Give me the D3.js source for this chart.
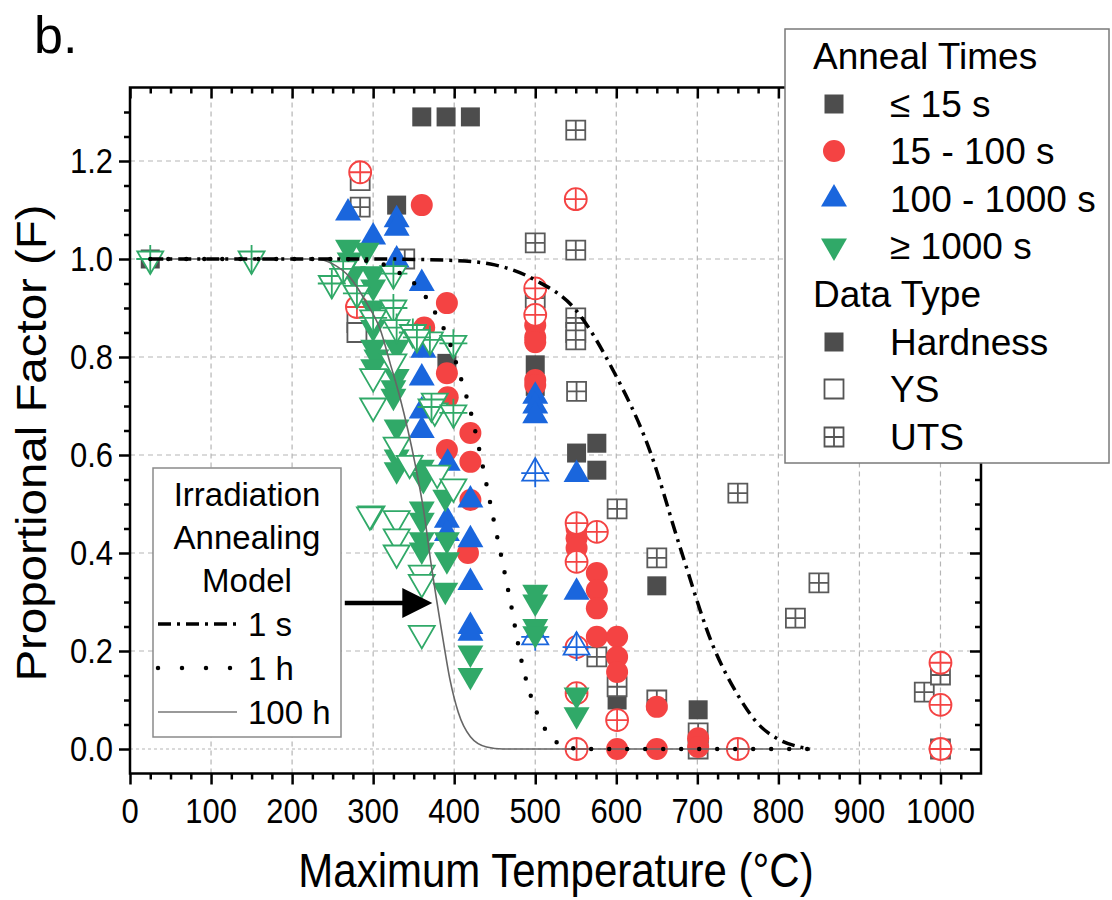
<!DOCTYPE html>
<html>
<head>
<meta charset="utf-8">
<script src="https://cdn.jsdelivr.net/npm/d3@7"></script>
<style>
body { margin: 0; background: #fff; }
text { font-family: "Liberation Sans", Arial, sans-serif; fill: #000; }
</style>
</head>
<body>
<svg id="chart" width="1112" height="900"></svg>
<script>
// ---- data: [temperature °C, proportional factor F] ----
const xTicks = [0, 100, 200, 300, 400, 500, 600, 700, 800, 900, 1000];
const yTicks = [0.0, 0.2, 0.4, 0.6, 0.8, 1.0, 1.2];

// <= 15 s (grey squares)
const hardShort = [[25,1.0],[329,1.11],[360,1.29],[390,1.29],[420,1.29],[391,0.787],[500,0.784],[500,0.74],
  [551,0.604],[576,0.624],[576,0.569],[650,0.333],[601,0.1],[701,0.08]];
const ysShort = [[280,0.87],[280,0.85],[284,1.16],[701,0.0],[1000,0.0]];
const utsShort = [[284,1.106],[339,1.0],[550,1.263],[500,1.033],[550,1.018],[500,0.92],[550,0.88],[550,0.85],
  [550,0.835],[551,0.73],[601,0.49],[650,0.39],[750,0.522],[850,0.339],[821,0.267],[980,0.116],[1000,0.151],
  [576,0.188],[601,0.127],[650,0.1],[701,0.033]];

// 15 - 100 s (red circles)
const hardMid = [[360,1.11],[391,0.91],[363,0.86],[391,0.767],[392,0.718],[420,0.645],[391,0.61],[420,0.586],
  [420,0.508],[417,0.40],[500,0.865],[500,0.84],[500,0.83],[500,0.753],[500,0.743],[551,0.45],[551,0.43],
  [551,0.41],[576,0.359],[576,0.324],[576,0.287],[576,0.229],[601,0.229],[601,0.188],[601,0.157],[650,0.086],
  [701,0.022],[701,0.004],[601,0.0],[650,0.0]];
const utsMid = [[284,1.177],[280,0.902],[550,1.122],[500,0.94],[500,0.886],[551,0.461],[576,0.443],[551,0.382],
  [551,0.208],[551,0.114],[601,0.059],[551,0.0],[750,0.0],[1000,0.176],[1000,0.09],[1000,0.0]];

// 100 - 1000 s (blue up triangles)
const hardLong = [[269,1.094],[329,1.08],[329,1.063],[300,1.045],[329,0.998],[360,0.95],[362,0.814],[360,0.757],
  [360,0.69],[360,0.65],[392,0.583],[391,0.467],[391,0.44],[420,0.508],[420,0.427],[420,0.34],[420,0.25],
  [420,0.236],[500,0.72],[500,0.70],[500,0.68],[551,0.56],[551,0.32]];
const utsLong = [[500,0.563],[500,0.229],[551,0.208]];

// >= 1000 s (green down triangles)
const hardVLong = [[269,1.024],[271,0.998],[275,0.97],[292,1.018],[300,0.97],[300,0.943],[300,0.90],[300,0.86],
  [300,0.82],[304,0.80],[300,0.78],[329,0.86],[329,0.82],[329,0.76],[325,0.737],[325,0.72],[329,0.657],
  [329,0.596],[329,0.57],[360,0.575],[362,0.55],[360,0.49],[360,0.467],[360,0.427],[360,0.406],[391,0.427],
  [391,0.386],[389,0.324],[389,0.514],[420,0.196],[420,0.15],[500,0.32],[500,0.30],[500,0.25],[500,0.235],
  [551,0.11],[551,0.07]];
const ysVLong = [[300,0.70],[329,0.62],[298,0.48],[329,0.47],[329,0.433],[329,0.40],[360,0.359],[360,0.34],
  [360,0.236],[376,0.71],[376,0.69],[345,0.583],[379,0.563],[399,0.535],[296,0.478],[325,0.79],[300,0.76]];
const utsVLong = [[25,1.0],[150,1.0],[249,0.95],[263,0.98],[325,0.97],[325,0.9],[329,0.86],[349,0.85],[370,0.835],
  [399,0.828],[354,0.84],[372,0.698],[399,0.686],[280,0.93],[300,0.88]];

// irradiation annealing model curves
const model1s = [[25,1.0],[300,1.0],[400,0.997],[450,0.988],[500,0.957],[550,0.896],[596,0.773],[642,0.606],
  [679,0.41],[720,0.208],[750,0.11],[774,0.053],[800,0.02],[827,0.004],[839,0.0]];
const model1h = [[25,1.0],[250,1.0],[300,0.995],[331,0.973],[349,0.953],[366,0.92],[380,0.88],[392,0.84],
  [407,0.763],[415,0.72],[422,0.677],[433,0.595],[448,0.473],[459,0.386],[469,0.304],[483,0.18],[497,0.096],
  [506,0.059],[520,0.024],[540,0.003],[560,0],[839,0]];
const model100h = [[25,1.0],[230,1.0],[250,0.99],[271,0.963],[292,0.91],[309,0.855],[321,0.787],[333,0.718],
  [343,0.65],[352,0.58],[362,0.49],[372,0.372],[385,0.236],[395,0.14],[405,0.075],[420,0.025],[440,0.004],
  [460,0],[828,0]];

const annealLabels = ["\u2264 15 s", "15 - 100 s", "100 - 1000 s", "\u2265 1000 s"];
const typeLabels = ["Hardness", "YS", "UTS"];
const modelLabels = ["1 s", "1 h", "100 h"];

// ---- setup ----
const cGray = "#4d4d4d", cRed = "#f44343", cBlue = "#1a66dd", cGreen = "#30a968";
const svg = d3.select("#chart");
const x = d3.scaleLinear().domain([0, 1050]).range([130, 981]);
const y = d3.scaleLinear().domain([-0.05, 1.35]).range([773.5, 87.5]);
const stretch = 1.13;

const sq = d3.symbol().type(d3.symbolSquare).size(361)();
const circ = d3.symbol().type(d3.symbolCircle).size(380)();
const tri = d3.symbol().type(d3.symbolTriangle).size(292)();
const shapes = {
  square: { d: sq, cross: "M-9.5,0H9.5M0,-9.5V9.5", rot: 0 },
  circle: { d: circ, cross: "M-11,0H11M0,-11V11", rot: 0 },
  up: { d: tri, cross: "M-14,0H14M0,-15V14", rot: 0 },
  down: { d: tri, cross: "M-14,0H14M0,-15V14", rot: 180 }
};

// grid
const grid = svg.append("g");
grid.selectAll("line.gx").data(xTicks.slice(1)).enter().append("line")
  .attr("x1", d => x(d)).attr("x2", d => x(d)).attr("y1", y(-0.05)).attr("y2", y(1.35))
  .attr("stroke", "#b5b5b5").attr("stroke-width", 1.2).attr("stroke-dasharray", "5,4");
grid.selectAll("line.gy").data(yTicks).enter().append("line")
  .attr("x1", x(0)).attr("x2", x(1050)).attr("y1", d => y(d)).attr("y2", d => y(d))
  .attr("stroke", "#b5b5b5").attr("stroke-width", 1.2).attr("stroke-dasharray", d => d === 0 ? "3,3" : "5,4");

// markers
function drawSet(data, shape, kind, color) {
  const s = shapes[shape];
  const g = svg.append("g").selectAll("g").data(data).enter().append("g")
    .attr("transform", d => `translate(${x(d[0])},${y(d[1])}) rotate(${s.rot})`);
  g.append("path").attr("d", s.d)
    .attr("fill", kind === "hard" ? color : "#fff")
    .attr("stroke", color).attr("stroke-width", kind === "hard" ? 0 : 1.8);
  if (kind === "uts") {
    g.append("path").attr("d", s.cross).attr("fill", "none").attr("stroke", color).attr("stroke-width", 1.8);
  }
}
drawSet(hardShort, "square", "hard", cGray);
drawSet(ysShort, "square", "ys", "#5a5a5a");
drawSet(utsShort, "square", "uts", "#5a5a5a");
drawSet(hardMid, "circle", "hard", cRed);
drawSet(utsMid, "circle", "uts", cRed);
drawSet(hardLong, "up", "hard", cBlue);
drawSet(utsLong, "up", "uts", cBlue);
drawSet(hardVLong, "down", "hard", cGreen);
drawSet(ysVLong, "down", "ys", cGreen);
drawSet(utsVLong, "down", "uts", cGreen);

// model curves
const line = d3.line().x(d => x(d[0])).y(d => y(d[1])).curve(d3.curveMonotoneX);
svg.append("path").datum(model100h).attr("d", line).attr("fill", "none")
  .attr("stroke", "#666").attr("stroke-width", 1.6);
svg.append("path").datum(model1h).attr("d", line).attr("fill", "none")
  .attr("stroke", "#000").attr("stroke-width", 4.5).attr("stroke-linecap", "round").attr("stroke-dasharray", "0,18");
svg.append("path").datum(model1s).attr("d", line).attr("fill", "none")
  .attr("stroke", "#000").attr("stroke-width", 3.5).attr("stroke-dasharray", "13,6,3,6");

// arrow
const ay = y(0.298);
svg.append("line").attr("x1", x(265)).attr("x2", x(340)).attr("y1", ay).attr("y2", ay)
  .attr("stroke", "#000").attr("stroke-width", 4.5);
svg.append("path")
  .attr("d", `M${x(336)},${ay - 15}L${x(373)},${ay}L${x(336)},${ay + 15}Z`).attr("fill", "#000");

// axes frame + ticks
const frame = svg.append("g");
const xMinor = d3.range(25, 1050, 25).filter(v => v % 100 !== 0);
const yMinor = d3.range(1, 27).map(i => i * 0.05).filter(v => Math.abs(v * 5 - Math.round(v * 5)) > 1e-6);
function tickAxis(axisFn, scale, vals, size, transform) {
  const g = frame.append("g").attr("transform", transform)
    .call(axisFn(scale).tickValues(vals).tickSize(size).tickSizeOuter(0).tickFormat(""));
  g.select(".domain").remove();
  g.selectAll("line").attr("stroke", "#000").attr("stroke-width", 2.5);
}
tickAxis(d3.axisBottom, x, xTicks, 11, `translate(0,${y(-0.05)})`);
tickAxis(d3.axisBottom, x, xMinor, 6, `translate(0,${y(-0.05)})`);
tickAxis(d3.axisTop, x, xTicks, -11, `translate(0,${y(1.35)})`);
tickAxis(d3.axisTop, x, xMinor, -6, `translate(0,${y(1.35)})`);
tickAxis(d3.axisLeft, y, yTicks, 11, `translate(${x(0)},0)`);
tickAxis(d3.axisLeft, y, yMinor, 6, `translate(${x(0)},0)`);
tickAxis(d3.axisRight, y, yTicks, -11, `translate(${x(1050)},0)`);
tickAxis(d3.axisRight, y, yMinor, -6, `translate(${x(1050)},0)`);
frame.append("rect").attr("x", x(0)).attr("y", y(1.35)).attr("width", x(1050) - x(0)).attr("height", y(-0.05) - y(1.35))
  .attr("fill", "none").attr("stroke", "#000").attr("stroke-width", 2.5);

// tick labels
svg.append("g").selectAll("text").data(xTicks).enter().append("text")
  .attr("transform", d => `translate(${x(d)},${y(-0.05) + 49}) scale(1,${stretch})`)
  .attr("text-anchor", "middle").attr("font-size", 31).text(d => d);
svg.append("g").selectAll("text").data(yTicks).enter().append("text")
  .attr("transform", d => `translate(113,${y(d) + 12}) scale(1,${stretch})`)
  .attr("text-anchor", "end").attr("font-size", 31).text(d => d3.format(".1f")(d));

// axis titles
svg.append("text").attr("transform", `translate(556,887) scale(1,${stretch})`)
  .attr("text-anchor", "middle").attr("font-size", 42).text("Maximum Temperature (\u00b0C)");
svg.append("text").attr("transform", `translate(46,443) rotate(-90) scale(${stretch},1)`)
  .attr("text-anchor", "middle").attr("font-size", 42).text("Proportional Factor (F)");
svg.append("text").attr("x", 34).attr("y", 53).attr("font-size", 52).text("b.");

// model legend
const ml = svg.append("g");
ml.append("rect").attr("x", 153).attr("y", 468).attr("width", 188).attr("height", 269)
  .attr("fill", "#fff").attr("stroke", "#8a8a8a").attr("stroke-width", 1.5);
["Irradiation", "Annealing", "Model"].forEach((t, i) => {
  ml.append("text").attr("x", 247).attr("y", 506 + i * 43).attr("text-anchor", "middle").attr("font-size", 33).text(t);
});
const mlStyles = [
  { stroke: "#000", w: 3.5, dash: "13,6,3,6", cap: "butt" },
  { stroke: "#000", w: 4.5, dash: "0,24", cap: "round" },
  { stroke: "#777", w: 1.6, dash: null, cap: "butt" }
];
modelLabels.forEach((t, i) => {
  const ly = 624 + i * 44;
  ml.append("line").attr("x1", 158).attr("x2", 237).attr("y1", ly).attr("y2", ly)
    .attr("stroke", mlStyles[i].stroke).attr("stroke-width", mlStyles[i].w)
    .attr("stroke-dasharray", mlStyles[i].dash).attr("stroke-linecap", mlStyles[i].cap);
  ml.append("text").attr("x", 248).attr("y", ly + 12).attr("font-size", 33).text(t);
});

// main legend
const lg = svg.append("g");
lg.append("rect").attr("x", 785).attr("y", 29).attr("width", 324).attr("height", 434)
  .attr("fill", "#fff").attr("stroke", "#7a7a7a").attr("stroke-width", 1.5);
lg.append("text").attr("x", 813).attr("y", 69).attr("font-size", 37).text("Anneal Times");
lg.append("text").attr("x", 813).attr("y", 307).attr("font-size", 37).text("Data Type");
const annealSym = [["square", cGray], ["circle", cRed], ["up", cBlue], ["down", cGreen]];
const annealRows = [104, 151, 199, 246];
annealLabels.forEach((t, i) => {
  const s = shapes[annealSym[i][0]];
  lg.append("path").attr("d", s.d).attr("fill", annealSym[i][1])
    .attr("transform", `translate(834,${annealRows[i]}) rotate(${s.rot})`);
  lg.append("text").attr("x", 890).attr("y", annealRows[i] + 13).attr("font-size", 37).text(t);
});
const typeRows = [342, 389, 437];
typeLabels.forEach((t, i) => {
  const g = lg.append("g").attr("transform", `translate(834,${typeRows[i]})`);
  g.append("path").attr("d", sq).attr("fill", i === 0 ? cGray : "#fff")
    .attr("stroke", "#555").attr("stroke-width", i === 0 ? 0 : 1.8);
  if (i === 2) g.append("path").attr("d", shapes.square.cross).attr("stroke", "#555").attr("stroke-width", 1.8);
  lg.append("text").attr("x", 890).attr("y", typeRows[i] + 13).attr("font-size", 37).text(t);
});
</script>
</body>
</html>
